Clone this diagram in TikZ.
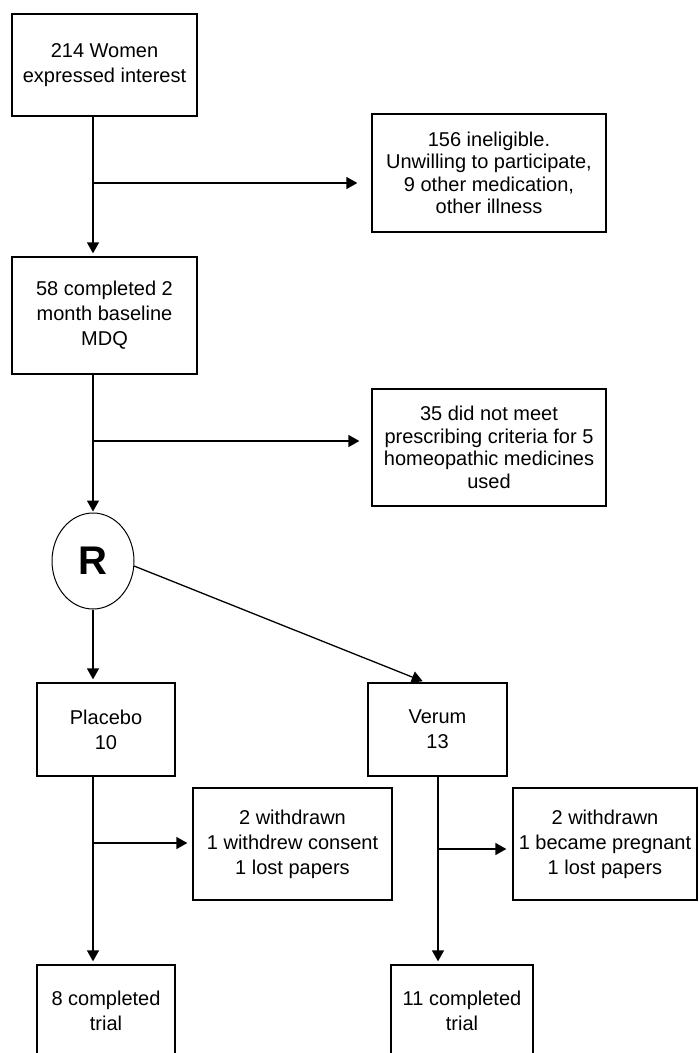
\documentclass[tikz,border=0pt]{standalone}
\usepackage{fontspec}
\setmainfont{Liberation Sans}
\usetikzlibrary{arrows.meta,shapes.geometric}
\tikzset{>={Triangle[length=11pt,width=12pt]}}
\tikzset{
  box/.style = {draw, line width=1.3pt, align=center, inner sep=2pt,
    font=\fontsize{20}{22.5}\selectfont},
  loose/.style = {font=\fontsize{20}{25}\selectfont},
  flow/.style = {->, line width=1.3pt, shorten >=3pt}
}

\begin{document}
\begin{tikzpicture}[x=1pt,y=-1pt]
  \clip (0,0) rectangle (699,1053);
  % spines
  \coordinate (lspine) at (93,0);
  \coordinate (rspine) at (438,0);
  % left column
  \node[box,loose,minimum width=185,minimum height=102] (interest) at (104.5,65) {214 Women\\expressed interest};
  \node[box,loose,minimum width=185,minimum height=117] (mdq) at (104.5,315.5) {58 completed 2\\month baseline\\MDQ};
  \node[draw,ellipse,line width=1pt,minimum width=82,minimum height=96,
    font=\fontsize{40}{40}\selectfont\bfseries] (R) at (93,561) {R};
  % exclusions
  \node[box,minimum width=234,minimum height=118] (inelig) at (489,173) {156 ineligible.\\Unwilling to participate,\\9 other medication,\\other illness};
  \node[box,minimum width=234,minimum height=117] (notmet) at (489,447.5) {35 did not meet\\prescribing criteria for 5\\homeopathic medicines\\used};
  % arms
  \node[box,loose,minimum width=138,minimum height=93] (placebo) at (106,729.5) {Placebo\\10};
  \node[box,loose,minimum width=139,minimum height=93] (verum) at (437.5,729.5) {Verum\\13};
  \node[box,loose,minimum width=199,minimum height=112] (wdp) at (292.5,844) {2 withdrawn\\1 withdrew consent\\1 lost papers};
  \node[box,loose,minimum width=184,minimum height=112] (wdv) at (605,844) {2 withdrawn\\1 became pregnant\\1 lost papers};
  \node[box,loose,minimum width=138,minimum height=92] (donep) at (106,1011) {8 completed\\trial};
  \node[box,loose,minimum width=142,minimum height=92] (donev) at (462,1011) {11 completed\\trial};
  % branch points
  \coordinate (br1) at (93,183);
  \coordinate (br2) at (93,441);
  \coordinate (br3) at (93,843);
  \coordinate (br4) at (438,849);
  % main flow
  \draw[flow] (interest.south -| lspine) -- (mdq.north -| lspine);
  \draw[flow,shorten >=1pt] (mdq.south -| lspine) -- (R.north);
  \draw[flow] (R.south) -- (placebo.north -| lspine);
  \draw[flow] (R.-7) -- ([xshift=-12]verum.north);
  \draw[flow] (placebo.south -| lspine) -- (donep.north -| lspine);
  \draw[flow] (verum.south -| rspine) -- (donev.north -| rspine);
  % side arrows
  \draw[flow,shorten >=14pt] (br1) -- (br1 -| inelig.west);
  \draw[flow,shorten >=12pt] (br2) -- (br2 -| notmet.west);
  \draw[flow,shorten >=5pt] (br3) -- (br3 -| wdp.west);
  \draw[flow,shorten >=6pt] (br4) -- (br4 -| wdv.west);
\end{tikzpicture}
\end{document}
